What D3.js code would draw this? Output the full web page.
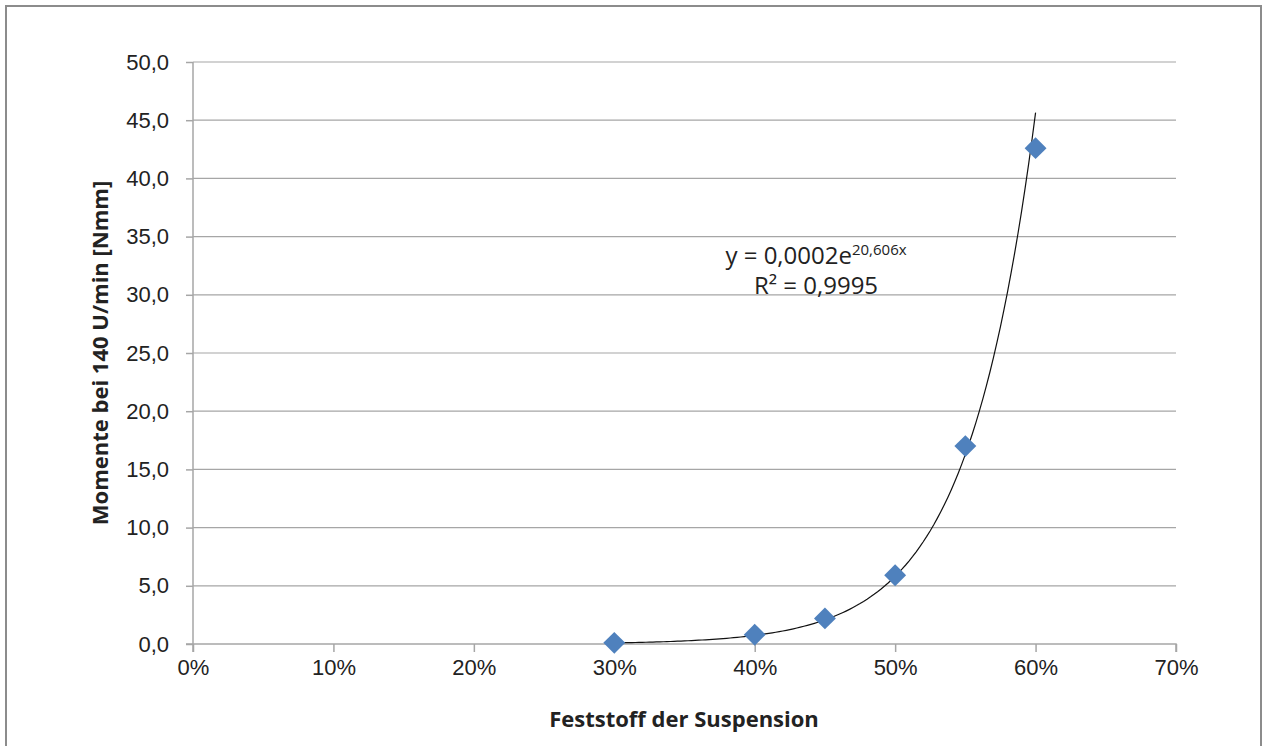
<!DOCTYPE html>
<html lang="de">
<head>
<meta charset="utf-8">
<title>Momente</title>
<script src="https://cdnjs.cloudflare.com/ajax/libs/d3/7.8.5/d3.min.js"></script>
<style>
  body { margin: 0; background: #fff; }
  svg { display: block; font-family: "Open Sans", "Noto Sans", sans-serif; }
</style>
</head>
<body>
<div id="chart"></div>
<script>
// data
var solids = [0.30, 0.40, 0.45, 0.50, 0.55, 0.60];
var moments = [0.1, 0.8, 2.2, 5.9, 17.0, 42.6];
var yTicks = [0, 5, 10, 15, 20, 25, 30, 35, 40, 45, 50];
var xTicks = [0, 0.1, 0.2, 0.3, 0.4, 0.5, 0.6, 0.7];
// exponential trendline y = a*e^(b*x)
var trendA = 0.000195, trendB = 20.606;
var trendRange = [0.30, 0.60];

var width = 1263, height = 746;
var plotLeft = 193, plotRight = 1176, plotTop = 62, plotBottom = 644;

var svg = d3.select("#chart").append("svg").attr("width", width).attr("height", height);

svg.append("rect").attr("x", 6).attr("y", 6).attr("width", 1255).attr("height", 760)
    .attr("fill", "none").attr("stroke", "#8c8c8c").attr("stroke-width", 2);

var x = d3.scaleLinear().domain([0, 0.7]).range([plotLeft, plotRight]);
var y = d3.scaleLinear().domain([0, 50]).range([plotBottom, plotTop]);

var fmtY = function(d) { return d3.format(".1f")(d).replace(".", ","); };
var fmtX = function(d) { return Math.round(d * 100) + "%"; };

// gridlines
svg.append("g").selectAll("line").data(yTicks.slice(1)).enter().append("line")
    .attr("x1", plotLeft).attr("x2", plotRight)
    .attr("y1", function(d) { return y(d); }).attr("y2", function(d) { return y(d); })
    .attr("stroke", "#a6a6a6").attr("stroke-width", 1.2);

var yAxis = svg.append("g").attr("transform", "translate(" + plotLeft + ",0)")
    .call(d3.axisLeft(y).tickValues(yTicks).tickFormat(fmtY).tickSize(7).tickPadding(17));
var xAxis = svg.append("g").attr("transform", "translate(0," + plotBottom + ")")
    .call(d3.axisBottom(x).tickValues(xTicks).tickFormat(fmtX).tickSize(8).tickPadding(7));

[yAxis, xAxis].forEach(function(a) {
    a.select(".domain").attr("stroke", "#a6a6a6").attr("stroke-width", 1.5);
    a.selectAll(".tick line").attr("stroke", "#a6a6a6").attr("stroke-width", 1.5);
    a.selectAll("text").attr("font-size", "22px").attr("fill", "#222");
});
// Excel style: axis lines run a little past the corner
yAxis.select(".domain").attr("d", "M0," + plotTop + "V" + (plotBottom + 8));
xAxis.select(".domain").attr("d", "M" + (plotLeft - 7) + ",0H" + plotRight + "V8");

// trendline
var trendX = d3.range(trendRange[0], trendRange[1] + 0.0001, 0.0025);
var line = d3.line()
    .x(function(d) { return x(d); })
    .y(function(d) { return y(trendA * Math.exp(trendB * d)); });
svg.append("path").datum(trendX).attr("d", line)
    .attr("fill", "none").attr("stroke", "#111").attr("stroke-width", 1.2);

// markers
svg.append("g").selectAll("path").data(solids).enter().append("path")
    .attr("d", d3.symbol().type(d3.symbolSquare).size(240))
    .attr("transform", function(d, i) { return "translate(" + x(d) + "," + y(moments[i]) + ") rotate(45)"; })
    .attr("fill", "#4f81bd");

// equation
var eq = svg.append("text").attr("x", 816).attr("y", 264).attr("text-anchor", "middle")
    .attr("font-size", "24px").attr("fill", "#222");
eq.append("tspan").text("y = 0,0002e");
eq.append("tspan").attr("dy", -9).attr("font-size", "15px").text("20,606x");
svg.append("text").attr("x", 816).attr("y", 294).attr("text-anchor", "middle")
    .attr("font-size", "24px").attr("fill", "#222").text("R² = 0,9995");

// axis titles
svg.append("text").attr("x", 684).attr("y", 727).attr("text-anchor", "middle")
    .attr("font-size", "22px").attr("font-weight", "bold").attr("fill", "#222")
    .text("Feststoff der Suspension");
svg.append("text").attr("transform", "translate(108,353) rotate(-90)").attr("text-anchor", "middle")
    .attr("font-size", "22px").attr("font-weight", "bold").attr("fill", "#222")
    .text("Momente bei 140 U/min [Nmm]");
</script>
</body>
</html>
